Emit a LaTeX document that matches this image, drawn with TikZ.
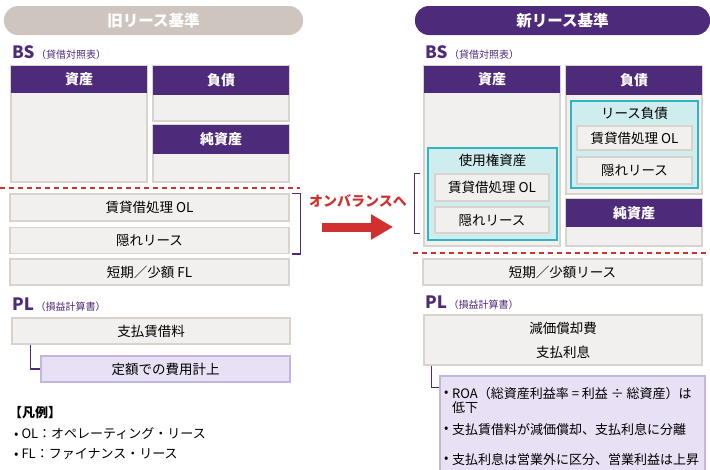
\documentclass[tikz,border=0pt]{standalone}
\usepackage{fontspec}
\setmainfont{Noto Sans CJK JP}
\usetikzlibrary{arrows.meta}
\definecolor{lpurple}{HTML}{4E2A7B}
\definecolor{lgray}{HTML}{CDC5BE}
\definecolor{boxfill}{HTML}{F2F0EE}
\definecolor{boxline}{HTML}{D9D3CE}
\definecolor{lavfill}{HTML}{E8E0F4}
\definecolor{lavline}{HTML}{C5B4DE}
\definecolor{tealfill}{HTML}{CFECEF}
\definecolor{tealline}{HTML}{30B4BF}
\definecolor{lred}{HTML}{D2302E}
\begin{document}
\begin{tikzpicture}[x=1pt, y=-1pt,
  title/.style={rounded corners=14pt, inner sep=0pt, minimum height=29, text=white, font=\bfseries\fontsize{15.5}{17}\selectfont},
  hdr/.style={fill=lpurple, text=white, inner sep=0pt, minimum width=136, font=\bfseries\fontsize{14}{16}\selectfont},
  body/.style={fill=boxfill, draw=boxline, line width=1.2pt, inner sep=0pt, minimum width=136},
  item/.style={fill=boxfill, draw=boxline, line width=1.2pt, inner sep=0pt, font=\fontsize{13.5}{15}\selectfont},
  lav/.style={fill=lavfill, draw=lavline, line width=1.2pt, inner sep=0pt},
  teal/.style={fill=tealfill, draw=tealline, line width=1.2pt, inner sep=0pt},
  sect/.style={anchor=west, inner sep=0pt, text=lpurple},
  txt/.style={anchor=west, inner sep=0pt, font=\fontsize{13}{15}\selectfont},
  sep/.style={lred, line width=1.2pt, dash pattern=on 5pt off 4pt},
  bracket/.style={lpurple, line width=1.5pt},
  conn/.style={lpurple, line width=1.5pt}]
\useasboundingbox (0,0) rectangle (710,469);

% old standard
\node[title, fill=lgray, minimum width=299] (oTitle) at (153.5,20.5) {旧リース基準};
\node[sect] (oBS) at (12,53) {{\bfseries\fontsize{17}{18}\selectfont BS}\,{\fontsize{10}{11}\selectfont （貸借対照表）}};
\node[body, minimum height=116] (oAbody) at (79,124) {};
\node[hdr, minimum height=27] (oA) at (79,79.5) {資産};
\node[body, minimum height=55] (oLbody) at (221,93.5) {};
\node[hdr, minimum height=29] (oL) at (221,80.5) {負債};
\node[body, minimum height=57] (oEbody) at (221,153.5) {};
\node[hdr, minimum height=29] (oE) at (221,139.5) {純資産};
\draw[sep] (0,188) -- (300,188);
\node[item, minimum width=279, minimum height=27] (oOL) at (149.5,207.5) {賃貸借処理 OL};
\node[item, minimum width=279, minimum height=26] (oHid) at (149.5,240.5) {隠れリース};
\node[item, minimum width=279, minimum height=26] (oFL) at (149.5,272) {短期／少額 FL};
\draw[bracket] ([xshift=2pt]oOL.north east) -- ++(9,0) |- ([xshift=2pt]oHid.south east);
\node[sect] (oPL) at (12,305) {{\bfseries\fontsize{17}{18}\selectfont PL}\,{\fontsize{10}{11}\selectfont （損益計算書）}};
\node[item, minimum width=278, minimum height=26] (oRent) at (151,331) {支払賃借料};
\node[item, lav, minimum width=249, minimum height=26] (oFix) at (165.5,369) {定額での費用計上};
\draw[conn] ([xshift=19pt]oRent.south west) |- (oFix.west);
\node[txt, font=\bfseries\fontsize{13}{15}\selectfont] (legend) at (9,413) {【凡例】};
\node[txt] (legOL) at (14,434) {• OL：オペレーティング・リース};
\node[txt] (legFL) at (14,454) {• FL：ファイナンス・リース};

% arrow
\node[text=lred, font=\bfseries\fontsize{14}{16}\selectfont] (onbal) at (358,201) {オンバランスへ};
\coordinate (arrS) at (322,227);
\coordinate (arrE) at (393,227);
\draw[lred, line width=9pt, -{Triangle[length=22pt,width=24pt]}] (arrS) -- (arrE);

% new standard
\node[title, fill=lpurple, minimum width=295] (nTitle) at (562.5,20.5) {新リース基準};
\node[sect] (nBS) at (425,53) {{\bfseries\fontsize{17}{18}\selectfont BS}\,{\fontsize{10}{11}\selectfont （貸借対照表）}};
\node[body, minimum height=180] (nAbody) at (492,156) {};
\node[hdr, minimum height=27] (nA) at (492,79.5) {資産};
\node[body, minimum height=128] (nLbody) at (634,130) {};
\node[hdr, minimum height=29] (nL) at (634,80.5) {負債};
\node[teal, minimum width=127, minimum height=87] (nLease) at (634.5,144.5) {};
\node[inner sep=0pt, font=\fontsize{13.5}{15}\selectfont] (nLeaseT) at (634.5,113) {リース負債};
\node[item, minimum width=115, minimum height=24] (nLOL) at (634.5,138) {賃貸借処理 OL};
\node[item, minimum width=115, minimum height=27] (nLHid) at (634.5,170.5) {隠れリース};
\node[body, minimum height=47] (nEbody) at (634,222.5) {};
\node[hdr, minimum height=28] (nE) at (634,213) {純資産};
\node[teal, minimum width=129, minimum height=92] (nROU) at (492.5,194) {};
\node[inner sep=0pt, font=\fontsize{13.5}{15}\selectfont] (nROUT) at (492.5,160) {使用権資産};
\node[item, minimum width=114, minimum height=27] (nROL) at (492,187.5) {賃貸借処理 OL};
\node[item, minimum width=114, minimum height=26] (nRHid) at (492,220) {隠れリース};
\draw[bracket] ([xshift=-14pt]nROL.north west) -- ++(-6,0) |- ([xshift=-14pt]nRHid.south west);
\draw[sep] (413,253) -- (710,253);
\node[item, minimum width=279, minimum height=26] (nShort) at (562.5,272) {短期／少額リース};
\node[sect] (nPL) at (425,303) {{\bfseries\fontsize{17}{18}\selectfont PL}\,{\fontsize{10}{11}\selectfont （損益計算書）}};
\node[item, minimum width=278, minimum height=50, align=center, font=\fontsize{13.5}{24}\selectfont] (nDep) at (563,340) {減価償却費\\支払利息};
\node[lav, minimum width=265, minimum height=100] (nEff) at (572.5,426) {};
\draw[conn] ([xshift=8pt]nDep.south west) |- ([yshift=-12pt]nEff.north west);
\node[txt] (nB1) at (444,394) {•};
\node[txt] (nT1) at (452,394) {ROA（総資産利益率 = 利益 ÷ 総資産）は};
\node[txt] (nT1b) at (452,407.5) {低下};
\node[txt] (nB2) at (444,430) {•};
\node[txt] (nT2) at (452,430) {支払賃借料が減価償却、支払利息に分離};
\node[txt] (nB3) at (444,460) {•};
\node[txt] (nT3) at (452,460) {支払利息は営業外に区分、営業利益は上昇};
\end{tikzpicture}
\end{document}
